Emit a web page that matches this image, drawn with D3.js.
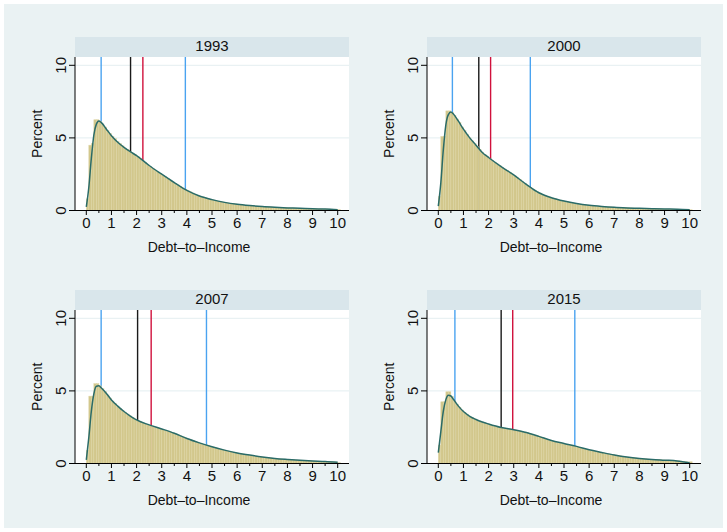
<!DOCTYPE html>
<html>
<head>
<meta charset="utf-8">
<script src="https://cdn.jsdelivr.net/npm/d3@7"></script>
<style>
  body { margin: 0; background: #fff; }
  text { font-family: "Liberation Sans", Arial, sans-serif; fill: #111; }
</style>
</head>
<body>
<div id="chart"></div>
<script>
// Debt-to-income distributions, one panel per survey year

var years = ["1993", "2000", "2007", "2015"];

// histogram heights (percent) for bins of width 0.1 starting at 0
var pct1993 = [0.8,4.5,4.6,6.25,6.25,6.15,5.95,5.75,5.5,5.3,
  5.1,4.95,4.75,4.6,4.45,4.3,4.2,4.05,3.95,3.85,
  3.72,3.58,3.42,3.3,3.15,3.02,2.9,2.78,2.66,2.54,
  2.43,2.32,2.2,2.08,1.97,1.87,1.76,1.65,1.55,1.45,
  1.36,1.28,1.2,1.12,1.05,0.98,0.93,0.87,0.82,0.77,
  0.73,0.69,0.65,0.61,0.58,0.55,0.52,0.5,0.47,0.45,
  0.43,0.41,0.39,0.37,0.35,0.34,0.32,0.31,0.29,0.28,
  0.27,0.26,0.25,0.24,0.23,0.22,0.21,0.2,0.2,0.19,
  0.18,0.17,0.17,0.16,0.15,0.15,0.14,0.14,0.13,0.13,
  0.12,0.12,0.11,0.11,0.1,0.1,0.1,0.09,0.09,0.09,
  0.06];

var pct2000 = [0.95,5.1,5.1,6.86,6.86,6.75,6.55,6.3,6.05,5.75,
  5.5,5.25,5.0,4.8,4.6,4.4,4.2,4.02,3.86,3.72,
  3.58,3.45,3.32,3.2,3.08,2.96,2.85,2.74,2.62,2.5,
  2.38,2.25,2.12,1.98,1.85,1.72,1.58,1.47,1.37,1.28,
  1.2,1.12,1.05,0.98,0.92,0.86,0.81,0.76,0.71,0.67,
  0.63,0.59,0.55,0.52,0.49,0.46,0.43,0.41,0.39,0.37,
  0.35,0.33,0.31,0.3,0.28,0.27,0.26,0.25,0.24,0.23,
  0.22,0.21,0.2,0.19,0.19,0.18,0.17,0.17,0.16,0.15,
  0.15,0.14,0.14,0.13,0.13,0.12,0.12,0.11,0.11,0.1,
  0.1,0.1,0.09,0.09,0.09,0.09,0.08,0.08,0.08,0.08,
  0.05];

var pct2007 = [0.9,4.64,4.64,5.5,5.5,5.35,5.15,4.95,4.72,4.5,
  4.3,4.12,3.95,3.8,3.65,3.52,3.4,3.28,3.16,3.05,
  2.96,2.88,2.8,2.74,2.68,2.63,2.57,2.51,2.46,2.4,
  2.35,2.29,2.23,2.17,2.11,2.04,1.97,1.9,1.83,1.76,
  1.69,1.63,1.57,1.51,1.45,1.39,1.33,1.28,1.23,1.18,
  1.13,1.08,1.03,0.98,0.94,0.9,0.86,0.82,0.78,0.74,
  0.71,0.68,0.65,0.62,0.59,0.56,0.54,0.51,0.49,0.46,
  0.44,0.42,0.4,0.38,0.36,0.34,0.33,0.31,0.3,0.28,
  0.27,0.26,0.25,0.24,0.23,0.22,0.21,0.2,0.19,0.18,
  0.17,0.16,0.15,0.15,0.14,0.13,0.12,0.12,0.11,0.1,
  0.06];

var pct2015 = [1.26,4.25,4.25,4.94,4.94,4.6,4.3,4.08,3.88,3.68,
  3.52,3.38,3.26,3.16,3.07,2.99,2.92,2.86,2.8,2.74,
  2.69,2.64,2.59,2.55,2.5,2.46,2.43,2.4,2.37,2.34,
  2.31,2.28,2.24,2.2,2.16,2.11,2.06,2.01,1.96,1.9,
  1.84,1.78,1.72,1.66,1.6,1.55,1.5,1.46,1.42,1.38,
  1.34,1.3,1.26,1.22,1.18,1.14,1.09,1.05,1.0,0.96,
  0.92,0.88,0.85,0.81,0.78,0.74,0.71,0.67,0.64,0.61,
  0.58,0.55,0.52,0.49,0.46,0.44,0.42,0.4,0.38,0.36,
  0.35,0.33,0.32,0.3,0.29,0.28,0.27,0.26,0.25,0.24,
  0.23,0.22,0.21,0.2,0.19,0.18,0.17,0.15,0.13,0.1,
  0.12];

// kernel density (percent scale), read at these x values
var densX = [0,0.1,0.2,0.3,0.4,0.5,0.6,0.8,1,1.25,1.5,1.75,2,2.5,3,3.5,4,4.5,5,5.5,6,6.5,7,7.5,8,8.5,9,9.5,10];
var dens1993 = [0.25,1.6,3.6,5.2,5.95,6.17,6.05,5.6,5.15,4.7,4.35,4.05,3.78,3.1,2.5,1.92,1.38,1.0,0.75,0.56,0.43,0.34,0.27,0.22,0.18,0.15,0.12,0.1,0.06];
var dens2000 = [0.3,1.9,4.2,5.9,6.6,6.78,6.65,6.15,5.6,5.0,4.5,4.0,3.65,3.02,2.45,1.8,1.22,0.88,0.65,0.48,0.36,0.28,0.22,0.18,0.15,0.12,0.1,0.09,0.06];
var dens2007 = [0.25,1.8,3.6,4.8,5.32,5.35,5.2,4.82,4.38,3.95,3.58,3.27,3.0,2.66,2.38,2.08,1.72,1.42,1.15,0.92,0.73,0.58,0.45,0.35,0.28,0.22,0.175,0.14,0.08];
var dens2015 = [0.75,2.2,3.6,4.4,4.7,4.65,4.42,3.95,3.58,3.25,3.03,2.86,2.72,2.48,2.33,2.14,1.87,1.58,1.38,1.18,0.94,0.76,0.59,0.45,0.35,0.28,0.23,0.18,0.05];

// reference lines: 10th pct, median, mean, 90th pct
var p10 = [0.59, 0.56, 0.59, 0.66];
var p50 = [1.76, 1.61, 2.04, 2.5];
var means = [2.25, 2.08, 2.58, 2.96];
var p90 = [3.94, 3.66, 4.78, 5.43];

var xTicks = [0,1,2,3,4,5,6,7,8,9,10];
var xMinor = [0.5,1.5,2.5,3.5,4.5,5.5,6.5,7.5,8.5,9.5];
var yTicks = [0, 5, 10];

var bars = [pct1993, pct2000, pct2007, pct2015];
var dens = [dens1993, dens2000, dens2007, dens2015];
var binWidth = 0.1;

var svgWidth = 727, svgHeight = 532;
var panelW = 274, stripH = 20, plotH = 153.5;
var panelLeft = [75, 427];
var panelTop = [37, 290];

var svg = d3.select("#chart")
  .append("svg")
  .attr("width", svgWidth)
  .attr("height", svgHeight);

// graph region
svg.append("rect")
  .attr("x", 4).attr("y", 4)
  .attr("width", svgWidth - 8).attr("height", svgHeight - 8)
  .attr("fill", "#eaf2f3");

years.forEach((year, i) => {
  var left = panelLeft[i % 2];
  var top = panelTop[Math.floor(i / 2)];
  var plotTop = top + stripH;
  var y0 = plotTop + plotH;

  var x = d3.scaleLinear().domain([-0.45, 10.45]).range([left, left + panelW]);
  var y = d3.scaleLinear().domain([0, 10]).range([y0, y0 - 145.2]);

  var g = svg.append("g");

  // plot region
  g.append("rect")
    .attr("x", left).attr("y", plotTop)
    .attr("width", panelW).attr("height", plotH)
    .attr("fill", "#fff");

  // title strip
  g.append("rect")
    .attr("x", left).attr("y", top)
    .attr("width", panelW).attr("height", stripH)
    .attr("fill", "#d9e6eb");
  g.append("text")
    .attr("x", left + panelW / 2).attr("y", top + 14)
    .attr("text-anchor", "middle")
    .style("font-size", "15px")
    .text(year);

  // gridlines
  g.selectAll(".grid")
    .data(yTicks.filter(d => d > 0))
    .enter()
    .append("line")
    .attr("x1", left).attr("x2", left + panelW)
    .attr("y1", d => y(d)).attr("y2", d => y(d))
    .attr("stroke", "#e4eef1")
    .attr("stroke-width", 1);

  // reference lines, behind the histogram
  var refs = [
    { v: p10[i], c: "#4aa3f0" },
    { v: p50[i], c: "#1a1a1a" },
    { v: means[i], c: "#d0113c" },
    { v: p90[i], c: "#4aa3f0" }
  ];
  g.selectAll(".ref")
    .data(refs)
    .enter()
    .append("line")
    .attr("x1", d => x(d.v)).attr("x2", d => x(d.v))
    .attr("y1", y0).attr("y2", plotTop)
    .attr("stroke", d => d.c)
    .attr("stroke-width", 1.4);

  // histogram
  g.selectAll(".bar")
    .data(bars[i])
    .enter()
    .append("rect")
    .attr("x", (d, j) => x(j * binWidth))
    .attr("y", d => y(d))
    .attr("width", (d, j) => x((j + 1) * binWidth) - x(j * binWidth))
    .attr("height", d => y0 - y(d))
    .attr("fill", "#d2c78c")
    .attr("stroke", "#ded6a6")
    .attr("stroke-width", 0.5);

  // density curve
  var line = d3.line()
    .x((d, j) => x(densX[j]))
    .y(d => y(d))
    .curve(d3.curveMonotoneX);
  g.append("path")
    .datum(dens[i])
    .attr("d", line)
    .attr("fill", "none")
    .attr("stroke", "#2a6b68")
    .attr("stroke-width", 1.5);

  // y axis
  g.append("line")
    .attr("x1", left).attr("x2", left)
    .attr("y1", y0).attr("y2", plotTop)
    .attr("stroke", "#000");
  g.selectAll(".ytick")
    .data(yTicks)
    .enter()
    .append("line")
    .attr("x1", left - 6).attr("x2", left)
    .attr("y1", d => y(d)).attr("y2", d => y(d))
    .attr("stroke", "#000");
  g.selectAll(".ylab")
    .data(yTicks)
    .enter()
    .append("text")
    .attr("transform", d => `translate(${left - 9.5},${y(d)}) rotate(-90)`)
    .attr("text-anchor", "middle")
    .style("font-size", "15px")
    .text(d => d);
  g.append("text")
    .attr("transform", `translate(${left - 33},${(plotTop + y0) / 2}) rotate(-90)`)
    .attr("text-anchor", "middle")
    .style("font-size", "14px")
    .text("Percent");

  // x axis
  g.append("line")
    .attr("x1", left).attr("x2", left + panelW)
    .attr("y1", y0).attr("y2", y0)
    .attr("stroke", "#000");
  g.selectAll(".xtick")
    .data(xTicks)
    .enter()
    .append("line")
    .attr("x1", d => x(d)).attr("x2", d => x(d))
    .attr("y1", y0).attr("y2", y0 + 4.5)
    .attr("stroke", "#000");
  g.selectAll(".xminor")
    .data(xMinor)
    .enter()
    .append("line")
    .attr("x1", d => x(d)).attr("x2", d => x(d))
    .attr("y1", y0).attr("y2", y0 + 2.5)
    .attr("stroke", "#000");
  g.selectAll(".xlab")
    .data(xTicks)
    .enter()
    .append("text")
    .attr("x", d => x(d)).attr("y", y0 + 17)
    .attr("text-anchor", "middle")
    .style("font-size", "15px")
    .text(d => d);
  g.append("text")
    .attr("x", left + 124).attr("y", y0 + 41)
    .attr("text-anchor", "middle")
    .style("font-size", "14px")
    .text("Debt–to–Income");
});
</script>
</body>
</html>
